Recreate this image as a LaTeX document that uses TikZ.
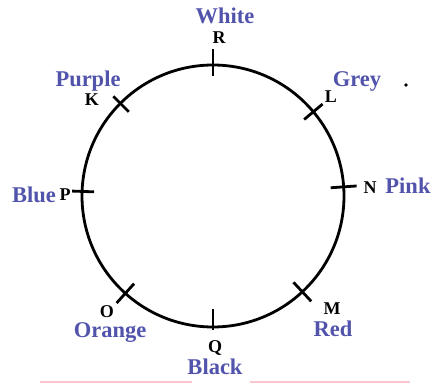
\documentclass[tikz,border=0pt]{standalone}
\usepackage{fontspec}
\setmainfont{Liberation Serif}
\usepackage{xcolor}
\usetikzlibrary{positioning}
\definecolor{labelblue}{RGB}{82,84,172}
\definecolor{edgepink}{RGB}{250,196,206}

\begin{document}
\begin{tikzpicture}[
  x=1pt, y=1pt,
  colour/.style={text=labelblue, font=\bfseries\fontsize{22.5}{24}\selectfont, inner sep=0pt, anchor=base},
  point/.style={text=black, font=\bfseries\fontsize{18}{19}\selectfont, inner sep=0pt, anchor=base},
  rim/.style={line width=2.8pt},
  tick/.style={line width=2.8pt}
]
\useasboundingbox (0,0) rectangle (432,383);
\coordinate (c) at (213,187);
\draw[rim] (c) circle (131);
% ticks: angle / inside / outside
\foreach \a/\i/\o in {90/11/16, 40/12/12, 4/13/13, -47/13/13, -90/18/3, -132/13/13, 178/12/10, 135/12/10}
  \draw[tick] (c) ++(\a:131-\i) -- ++(\a:\i+\o);

\node[colour] (white) at (225,359) {White};
\node[point] (r) at (219,339) {R};
\node[colour] (grey) at (357,296) {Grey};
\node[point] (l) at (331,280) {L};
\node[point] (n) at (370,189) {N};
\node[colour] (pink) at (408,189) {Pink};
\node[point] (m) at (332,68) {M};
\node[colour] (red) at (333,46) {Red};
\node[point] (q) at (215,30) {Q};
\node[colour] (black) at (215,8) {Black};
\node[point] (o) at (107,65) {O};
\node[colour] (orange) at (110,45) {Orange};
\node[point] (p) at (65,182) {P};
\node[colour] (blue) at (34,180) {Blue};
\node[point] (k) at (92,277) {K};
\node[colour] (purple) at (88,296) {Purple};

\fill (406,298) circle (1.8);
\draw[edgepink, line width=1.5pt] (40,1) -- (192,1) (250,1) -- (410,1);
\end{tikzpicture}
\end{document}
